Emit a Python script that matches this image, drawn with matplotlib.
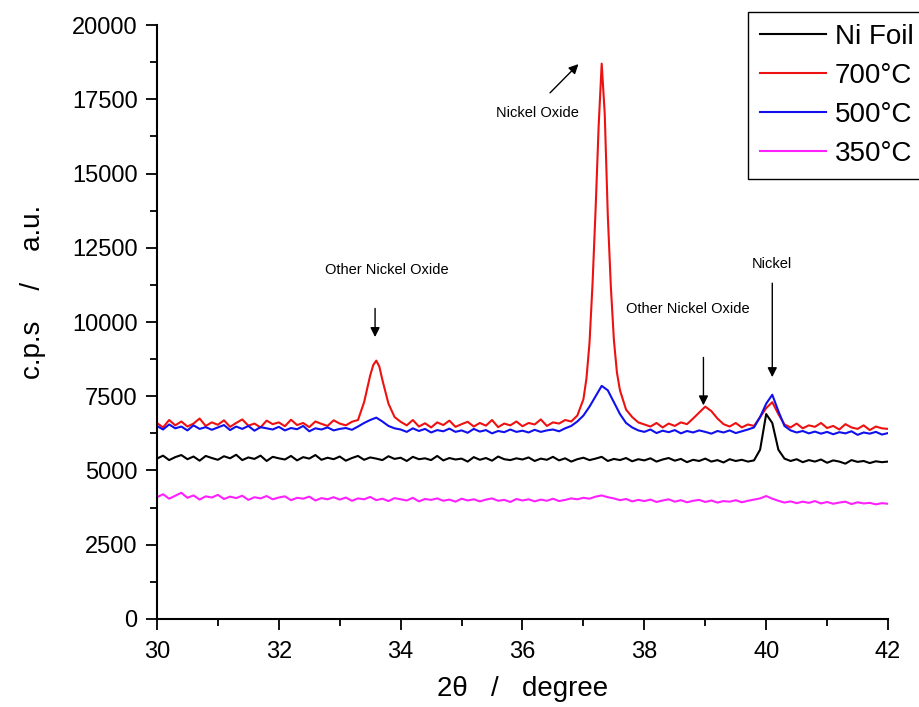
import numpy as np
import matplotlib
matplotlib.use('Agg')
import matplotlib.pyplot as plt
from matplotlib.ticker import MultipleLocator

plt.rcParams['font.family'] = ['Liberation Sans', 'DejaVu Sans']

# 2-theta scan grid (0.1 degree steps)
two_theta = np.round(np.arange(30.0, 42.0001, 0.1), 1)

# intensities, one value per grid point
red_700 = [
    6600, 6450, 6700, 6520, 6650, 6480, 6580, 6750, 6500, 6620,
    6540, 6690, 6470, 6600, 6720, 6510, 6580, 6450, 6680, 6560,
    6620, 6490, 6710, 6530, 6600, 6460, 6650, 6570, 6500, 6690,
    6580, 6520, 6640, 6700, 7300, 8200, 8700, 8050, 7250, 6800,
    6640, 6520, 6700, 6480, 6590, 6450, 6620, 6530, 6680, 6470,
    6560, 6640, 6480, 6600, 6510, 6700, 6460, 6580, 6520, 6650,
    6490, 6600, 6550, 6720, 6500, 6620, 6580, 6700, 6650, 6850,
    7400, 9300, 13800, 18700, 13600, 9400, 7700, 7050, 6800, 6620,
    6550, 6480, 6600, 6450, 6580, 6500, 6620, 6560, 6750, 6950,
    7150, 7000, 6750, 6560, 6480, 6600, 6450, 6550, 6500, 6800,
    7100, 7300, 6900, 6550, 6450, 6580, 6420, 6520, 6470, 6600,
    6430, 6500, 6380, 6560, 6450, 6400, 6520, 6360, 6480, 6420,
    6400,
]
# extra readings between grid points on the sharp peaks
red_extra_x = [33.55, 33.65, 37.05, 37.15, 37.25, 37.35, 37.45, 37.55]
red_extra_y = [8550, 8500, 8100, 11300, 16600, 17000, 11200, 8300]

blue_500 = [
    6500, 6380, 6550, 6420, 6480, 6350, 6520, 6400, 6460, 6370,
    6450, 6530, 6360, 6480, 6400, 6500, 6340, 6460, 6420, 6380,
    6470, 6350, 6430, 6390, 6500, 6320, 6420, 6380, 6450, 6350,
    6400, 6430, 6370, 6480, 6600, 6700, 6780, 6650, 6500, 6420,
    6380, 6300, 6420, 6330, 6400, 6280, 6360, 6320, 6410, 6300,
    6350, 6270, 6400, 6310, 6360, 6250, 6330, 6290, 6380, 6300,
    6340, 6280, 6370, 6300, 6350, 6380, 6320, 6420, 6500, 6650,
    6850, 7150, 7500, 7850, 7700, 7300, 6900, 6600, 6450, 6350,
    6300, 6380, 6260, 6340, 6290, 6360, 6250, 6330, 6280, 6350,
    6300, 6240, 6330, 6280, 6350, 6260, 6320, 6380, 6450, 6800,
    7250, 7550, 7000, 6500, 6350, 6280, 6330, 6250, 6310, 6240,
    6300, 6220, 6290, 6250, 6320, 6200, 6280, 6240, 6300, 6210,
    6260,
]

black_foil = [
    5400, 5500, 5350, 5450, 5520, 5380, 5470, 5330, 5490, 5420,
    5360, 5480, 5410, 5530, 5350, 5440, 5390, 5500, 5320, 5460,
    5410, 5370, 5490, 5340, 5450, 5400, 5520, 5360, 5430, 5380,
    5470, 5330, 5420, 5490, 5360, 5440, 5400, 5350, 5480, 5390,
    5430, 5320, 5460, 5380, 5410, 5350, 5490, 5340, 5420, 5370,
    5400, 5300, 5450, 5360, 5420, 5330, 5470, 5380, 5350, 5410,
    5370, 5440, 5320, 5400, 5360, 5460, 5340, 5410, 5300, 5380,
    5430, 5350, 5400, 5460, 5320, 5390, 5350, 5420, 5310, 5380,
    5340, 5410, 5300, 5370, 5420, 5330, 5390, 5280, 5360, 5320,
    5400, 5300, 5350, 5270, 5380, 5320, 5360, 5300, 5340, 5700,
    6900, 6600, 5700, 5400, 5320, 5380, 5280, 5350, 5300, 5370,
    5260, 5340, 5300, 5230, 5350, 5290, 5320, 5250, 5310, 5280,
    5300,
]

magenta_350 = [
    4100, 4200, 4050, 4150, 4250, 4080, 4160, 4020, 4130, 4090,
    4180, 4040, 4120, 4070, 4150, 4010, 4100, 4060, 4140, 4030,
    4090, 4130, 4000, 4080, 4050, 4120, 3990, 4070, 4030, 4100,
    4020, 4090, 3980, 4060, 4030, 4110, 4000, 4050, 3970, 4070,
    4030, 3990, 4080, 3960, 4040, 4010, 4060, 3980, 4020, 3950,
    4050, 3990, 4030, 3960, 4020, 4060, 3980, 4010, 3940, 4040,
    3990, 4030, 3960, 4020, 3980, 4050, 3970, 4010, 4060, 4030,
    4080, 4050, 4120, 4160, 4100, 4060, 4000, 4040, 3960, 4010,
    3970, 4020, 3940, 3990, 4030, 3950, 4000, 3930, 3980, 4010,
    3940, 3990, 3920, 3970, 3950, 4000, 3930, 3980, 4020, 4060,
    4140, 4050, 3980, 3920, 3960, 3900, 3950, 3910, 3970, 3890,
    3940, 3880, 3920, 3950, 3870, 3930, 3890, 3910, 3860, 3900,
    3880,
]

# merge the red extra points into the grid
red_x = np.concatenate([two_theta, red_extra_x])
red_y = np.concatenate([red_700, red_extra_y])
order = np.argsort(red_x)
red_x, red_y = red_x[order], red_y[order]

fig = plt.figure(figsize=(9.19, 7.07), dpi=100)
ax = fig.add_axes([0.1708, 0.1245, 0.7955, 0.8401])

lw = 1.5
ax.plot(two_theta, black_foil, color='black', lw=lw, label='Ni Foil')
ax.plot(red_x, red_y, color='#ee1111', lw=lw, label='700°C')
ax.plot(two_theta, blue_500, color='#1010ee', lw=lw, label='500°C')
ax.plot(two_theta, magenta_350, color='#ff20ff', lw=lw, label='350°C')

ax.set_xlim(30, 42)
ax.set_ylim(0, 20000)
ax.xaxis.set_major_locator(MultipleLocator(2))
ax.xaxis.set_minor_locator(MultipleLocator(1))
ax.yaxis.set_major_locator(MultipleLocator(2500))
ax.yaxis.set_minor_locator(MultipleLocator(1250))
ax.tick_params(which='major', direction='out', length=8, width=1.3, labelsize=17)
ax.tick_params(which='minor', direction='out', length=5, width=1.3)
ax.tick_params(axis='x', pad=8)
ax.tick_params(axis='y', pad=6)
for side in ['top', 'right']:
    ax.spines[side].set_visible(False)
for side in ['left', 'bottom']:
    ax.spines[side].set_linewidth(1.5)

ax.set_xlabel('2θ   /   degree', fontsize=20, labelpad=9)
ax.set_ylabel('c.p.s    /    a.u.', fontsize=20)
ax.yaxis.set_label_coords(-0.152, 0.55)

# peak annotations
arrow = dict(arrowstyle='-|>', color='black', lw=1, mutation_scale=14)
ax.text(33.78, 11750, 'Other Nickel Oxide', ha='center', va='center', fontsize=10.5)
ax.annotate('', xy=(33.58, 9400), xytext=(33.58, 10550), arrowprops=arrow)
ax.text(36.24, 17050, 'Nickel Oxide', ha='center', va='center', fontsize=10.5)
ax.annotate('', xy=(36.95, 18750), xytext=(36.42, 17650), arrowprops=arrow)
ax.text(38.72, 10450, 'Other Nickel Oxide', ha='center', va='center', fontsize=10.5)
ax.annotate('', xy=(38.97, 7100), xytext=(38.97, 8900), arrowprops=arrow)
ax.text(40.10, 11950, 'Nickel', ha='center', va='center', fontsize=10.5)
ax.annotate('', xy=(40.10, 8050), xytext=(40.10, 11400), arrowprops=arrow)

leg = ax.legend(loc='upper left', bbox_to_anchor=(748 / 919, 1 - 12 / 707),
                bbox_transform=fig.transFigure, borderaxespad=0,
                fontsize=20, handlelength=2.4, handletextpad=0.3,
                borderpad=0.42, labelspacing=0.47,
                fancybox=False, framealpha=1, edgecolor='black')
leg.get_frame().set_linewidth(1.0)

fig.savefig('out.png', dpi=100)
